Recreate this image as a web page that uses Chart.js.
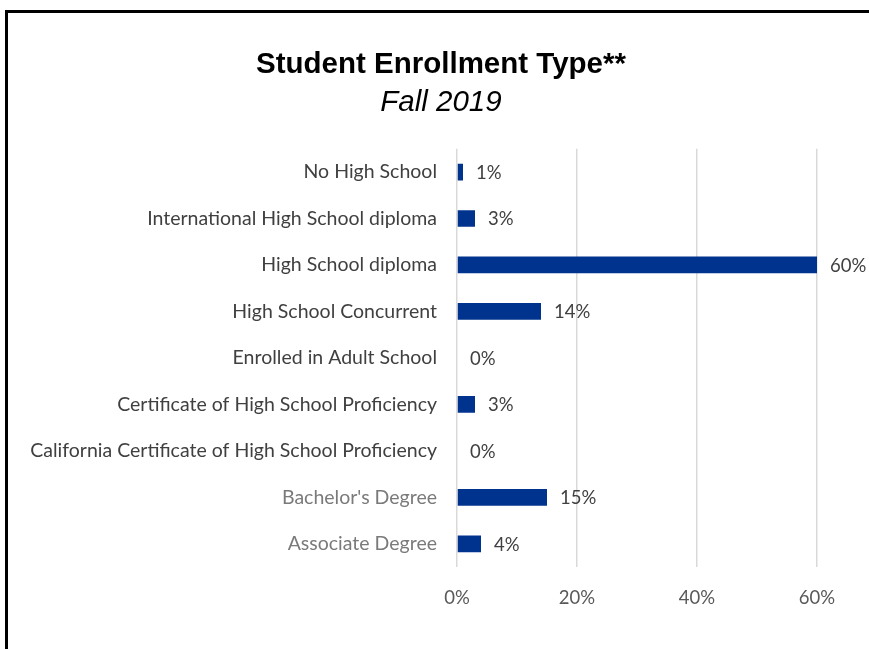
<!DOCTYPE html>
<html>
<head>
<meta charset="utf-8">
<title>Student Enrollment Type</title>
<script src="https://cdn.jsdelivr.net/npm/chart.js@4.4.0/dist/chart.umd.min.js"></script>
<style>
  body { margin: 0; background: #fff; }
  #wrap { position: absolute; left: 0; top: 0; width: 869px; height: 649px; overflow: hidden; }
  #frame { position: absolute; left: 5px; top: 10px; width: 900px; height: 700px;
           border-left: 3px solid #000; border-top: 3px solid #000; }
  #box { position: absolute; left: 0; top: 0; width: 869px; height: 649px; }
</style>
</head>
<body>
<div id="wrap">
  <div id="frame"></div>
  <div id="box"><canvas id="myChart"></canvas></div>
</div>
<script>
// data
const categories = [
  'No High School',
  'International High School diploma',
  'High School diploma',
  'High School Concurrent',
  'Enrolled in Adult School',
  'Certificate of High School Proficiency',
  'California Certificate of High School Proficiency',
  "Bachelor's Degree",
  'Associate Degree'
];
const percents = [1, 3, 60, 14, 0, 3, 0, 15, 4];
const xTicks = [0, 20, 40, 60];

// value labels at the end of each bar
const barLabels = {
  id: 'barLabels',
  afterDatasetsDraw(chart) {
    const ctx = chart.ctx;
    const meta = chart.getDatasetMeta(0);
    ctx.save();
    ctx.font = '18.5px Lato';
    ctx.fillStyle = '#404040';
    ctx.textAlign = 'left';
    ctx.textBaseline = 'middle';
    meta.data.forEach(function (bar, i) {
      ctx.fillText(percents[i] + '%', bar.x + 13, bar.y + 1);
    });
    ctx.restore();
  }
};

const ctx = document.getElementById('myChart');
const myChart = new Chart(ctx, {
  type: 'bar',
  data: {
    labels: categories,
    datasets: [{
      label: 'Fall 2019',
      data: percents,
      backgroundColor: '#00338D',
      borderWidth: 0,
      barPercentage: 0.36,
      categoryPercentage: 1
    }]
  },
  options: {
    indexAxis: 'y',
    responsive: true,
    maintainAspectRatio: false,
    animation: false,
    layout: { padding: { left: 13, right: 0, top: 0, bottom: 22 } },
    scales: {
      x: {
        min: 0,
        max: 60,
        afterBuildTicks: function (scale) {
          scale.ticks = xTicks.map(v => ({ value: v }));
        },
        afterFit: function (scale) { scale.height = 60; },
        grid: { color: '#d9d9d9', lineWidth: 1.5, drawTicks: false },
        border: { display: false },
        ticks: {
          padding: 20,
          color: '#595959',
          font: { family: 'Lato', size: 18.5 },
          callback: v => v + '%'
        }
      },
      y: {
        afterFit: function (scale) { scale.width = 444; },
        grid: { display: false, drawTicks: false },
        border: { display: false },
        ticks: {
          padding: 20,
          autoSkip: false,
          color: c => c.index >= 7 ? '#7a7a7a' : '#404040',
          font: { family: 'Lato', size: 19.5 }
        }
      },
      // empty space on the right for the 60% label
      yRight: {
        type: 'category',
        position: 'right',
        afterFit: function (scale) { scale.width = 52; },
        grid: { display: false, drawTicks: false },
        border: { display: false },
        ticks: { display: false }
      }
    },
    plugins: {
      legend: { display: false },
      tooltip: { enabled: false },
      title: {
        display: true,
        text: 'Student Enrollment Type**',
        color: '#000',
        font: { family: 'Liberation Sans', size: 29.5, weight: 'bold' },
        padding: { top: 47, bottom: 0 }
      },
      subtitle: {
        display: true,
        text: 'Fall 2019',
        color: '#000',
        font: { family: 'Liberation Sans', size: 29.5, style: 'italic' },
        padding: { top: 3, bottom: 28 }
      }
    }
  },
  plugins: [barLabels]
});
</script>
</body>
</html>
